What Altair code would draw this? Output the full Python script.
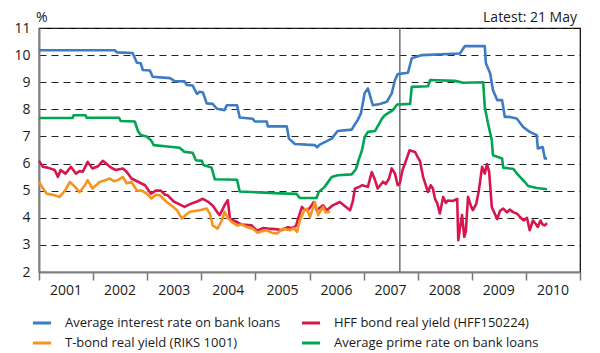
import altair as alt
import pandas as pd

# ---- data (decimal years, percent) ----
blue_x = [2001.00, 2002.40, 2002.44, 2002.73, 2002.81, 2002.88, 2002.92, 2003.05, 2003.10, 2003.42,
          2003.51, 2003.69, 2003.73, 2003.84, 2003.92, 2003.97, 2004.03, 2004.10, 2004.21, 2004.29,
          2004.43, 2004.47, 2004.66, 2004.71, 2004.95, 2004.99, 2005.21, 2005.23, 2005.58, 2005.62,
          2005.73, 2006.10, 2006.14, 2006.19, 2006.41, 2006.52, 2006.78, 2006.84, 2006.89, 2006.95,
          2007.02, 2007.08, 2007.12, 2007.17, 2007.30, 2007.43, 2007.52, 2007.58, 2007.63, 2007.82,
          2007.89, 2008.08, 2008.78, 2008.87, 2009.24, 2009.26, 2009.34, 2009.39, 2009.47, 2009.56,
          2009.61, 2009.70, 2009.83, 2009.95, 2010.07, 2010.20, 2010.22, 2010.31, 2010.35, 2010.39]
blue_y = [10.18, 10.18, 10.10, 10.08, 9.72, 9.70, 9.45, 9.43, 9.20, 9.15,
          9.04, 9.03, 8.90, 8.88, 8.57, 8.65, 8.62, 8.22, 8.20, 8.02,
          7.97, 8.15, 8.15, 7.70, 7.65, 7.55, 7.55, 7.37, 7.37, 6.92,
          6.72, 6.68, 6.60, 6.70, 6.92, 7.20, 7.25, 7.45, 7.60, 7.85,
          8.60, 8.77, 8.50, 8.15, 8.20, 8.28, 8.59, 9.08, 9.30, 9.35,
          9.88, 10.00, 10.06, 10.33, 10.33, 9.70, 9.32, 8.71, 8.34, 8.34,
          7.72, 7.72, 7.66, 7.35, 7.17, 7.05, 6.56, 6.61, 6.19, 6.19]

green_x = [2001.00, 2001.62, 2001.64, 2001.86, 2001.88, 2002.48, 2002.51, 2002.77, 2002.83, 2002.88,
           2002.99, 2003.07, 2003.12, 2003.42, 2003.60, 2003.69, 2003.84, 2003.90, 2004.01, 2004.04,
           2004.19, 2004.25, 2004.66, 2004.71, 2005.45, 2005.76, 2005.82, 2006.13, 2006.17, 2006.28,
           2006.41, 2006.52, 2006.78, 2006.86, 2006.90, 2006.97, 2007.02, 2007.08, 2007.21, 2007.34,
           2007.39, 2007.54, 2007.62, 2007.86, 2007.89, 2008.19, 2008.23, 2008.69, 2008.84, 2009.21,
           2009.24, 2009.30, 2009.37, 2009.39, 2009.56, 2009.58, 2009.77, 2009.86, 2009.98, 2010.04,
           2010.20, 2010.39]
green_y = [7.68, 7.68, 7.78, 7.78, 7.69, 7.69, 7.57, 7.55, 7.20, 7.05,
           7.00, 6.86, 6.68, 6.62, 6.58, 6.43, 6.40, 6.12, 6.10, 5.95,
           5.85, 5.42, 5.40, 4.97, 4.90, 4.88, 4.73, 4.73, 4.95, 5.14,
           5.50, 5.57, 5.60, 5.80, 6.08, 6.49, 6.98, 7.17, 7.20, 7.66,
           7.78, 7.97, 8.18, 8.20, 8.83, 8.85, 9.08, 9.05, 8.98, 9.00,
           8.09, 7.48, 6.86, 6.31, 6.19, 5.85, 5.80, 5.57, 5.32, 5.17,
           5.10, 5.05]

orange_x = [2001.00, 2001.07, 2001.14, 2001.29, 2001.38, 2001.48, 2001.57, 2001.66, 2001.75, 2001.85,
            2001.90, 2001.99, 2002.12, 2002.22, 2002.31, 2002.38, 2002.46, 2002.55, 2002.62, 2002.71,
            2002.81, 2002.90, 2002.99, 2003.08, 2003.16, 2003.23, 2003.36, 2003.45, 2003.55, 2003.64,
            2003.71, 2003.79, 2003.88, 2003.97, 2004.10, 2004.16, 2004.21, 2004.30, 2004.38, 2004.43,
            2004.49, 2004.56, 2004.66, 2004.75, 2004.84, 2004.95, 2005.04, 2005.12, 2005.21, 2005.30,
            2005.40, 2005.51, 2005.64, 2005.71, 2005.77, 2005.82, 2005.91, 2005.95, 2006.01, 2006.10,
            2006.16, 2006.25, 2006.30, 2006.38]
orange_y = [5.32, 5.10, 4.89, 4.83, 4.77, 5.00, 5.32, 5.15, 4.95, 5.20,
            5.39, 5.08, 5.32, 5.38, 5.45, 5.35, 5.39, 5.51, 5.27, 5.32,
            5.00, 5.00, 4.89, 4.71, 4.85, 4.83, 4.58, 4.45, 4.28, 3.97,
            4.10, 4.22, 4.25, 4.28, 4.34, 4.15, 3.72, 3.60, 3.90, 4.22,
            4.00, 3.85, 3.72, 3.75, 3.66, 3.60, 3.45, 3.50, 3.54, 3.45,
            3.42, 3.60, 3.54, 3.62, 3.48, 3.90, 4.30, 4.34, 4.03, 4.58,
            4.10, 4.40, 4.20, 4.22]

red_x = [2001.00, 2001.07, 2001.16, 2001.29, 2001.35, 2001.40, 2001.49, 2001.59, 2001.68, 2001.75,
         2001.81, 2001.90, 2001.99, 2002.09, 2002.18, 2002.31, 2002.42, 2002.55, 2002.62, 2002.71,
         2002.83, 2002.96, 2003.07, 2003.16, 2003.25, 2003.33, 2003.38, 2003.49, 2003.57, 2003.69,
         2003.81, 2003.92, 2004.03, 2004.12, 2004.21, 2004.29, 2004.34, 2004.43, 2004.49, 2004.53,
         2004.62, 2004.75, 2004.93, 2005.03, 2005.14, 2005.23, 2005.36, 2005.49, 2005.60, 2005.67,
         2005.75, 2005.78, 2005.86, 2005.91, 2005.97, 2006.02, 2006.08, 2006.13, 2006.25, 2006.32,
         2006.43, 2006.56, 2006.64, 2006.75, 2006.80, 2006.84, 2006.93, 2006.97, 2007.08, 2007.15,
         2007.21, 2007.26, 2007.36, 2007.41, 2007.47, 2007.52, 2007.58, 2007.63, 2007.67, 2007.72,
         2007.80, 2007.85, 2007.95, 2008.00, 2008.04, 2008.10, 2008.19, 2008.24, 2008.28, 2008.32,
         2008.36, 2008.41, 2008.47, 2008.52, 2008.56, 2008.65, 2008.73, 2008.75, 2008.78, 2008.82,
         2008.86, 2008.89, 2008.93, 2008.99, 2009.02, 2009.08, 2009.13, 2009.19, 2009.24, 2009.28,
         2009.32, 2009.37, 2009.47, 2009.52, 2009.58, 2009.65, 2009.70, 2009.77, 2009.84, 2009.89,
         2009.96, 2010.02, 2010.07, 2010.13, 2010.19, 2010.22, 2010.27, 2010.31, 2010.35, 2010.39]
red_y = [6.10, 5.88, 5.85, 5.76, 5.51, 5.76, 5.63, 5.88, 5.63, 5.72,
         5.70, 6.06, 5.82, 5.90, 6.10, 5.88, 5.76, 5.82, 5.70, 5.45,
         5.33, 5.20, 4.89, 5.00, 5.00, 4.85, 4.83, 4.60, 4.52, 4.40,
         4.52, 4.60, 4.70, 4.60, 4.45, 4.22, 4.10, 4.46, 4.65, 3.95,
         3.88, 3.75, 3.72, 3.52, 3.62, 3.60, 3.58, 3.55, 3.65, 3.62,
         3.70, 3.90, 4.40, 4.30, 4.28, 4.40, 4.58, 4.28, 4.46, 4.28,
         4.46, 4.58, 4.45, 4.28, 4.60, 5.08, 5.15, 5.20, 5.14, 5.69,
         5.40, 5.08, 5.33, 5.25, 5.45, 5.82, 5.63, 5.20, 5.27, 5.76,
         6.20, 6.49, 6.43, 6.24, 6.10, 5.51, 4.95, 5.20, 5.08, 4.70,
         4.54, 4.16, 4.77, 4.55, 4.64, 4.62, 4.70, 3.17, 3.60, 4.10,
         3.30, 3.50, 4.77, 4.40, 4.28, 4.50, 5.00, 5.88, 5.63, 5.98,
         5.70, 4.39, 3.95, 4.25, 4.34, 4.20, 4.30, 4.20, 4.15, 4.03,
         3.90, 4.00, 3.54, 3.90, 3.75, 3.66, 3.90, 3.75, 3.72, 3.80]

series_names = ["Average interest rate on bank loans", "HFF bond real yield (HFF150224)",
                "T-bond real yield (RIKS 1001)", "Average prime rate on bank loans"]
series_colors = ["#3D7BC4", "#D6174E", "#F7941D", "#00A651"]
year_ticks = list(range(2001, 2012))
y_ticks = list(range(2, 12))
break_year = [2007.67]
unit_label = "%"
latest_label = "Latest: 21 May"


def frame(xs, ys, name):
    return pd.DataFrame({"year": xs, "value": ys, "series": name})


color = alt.Color(
    "series:N",
    scale=alt.Scale(domain=series_names, range=series_colors),
    legend=alt.Legend(
        title=None, orient="none", legendX=-8, legendY=284, direction="horizontal",
        columns=2, gridAlign="none", symbolType="stroke", symbolStrokeWidth=3,
        symbolSize=330, labelFont="Open Sans", labelFontSize=13, labelColor="#1a1a1a",
        labelOffset=12, columnPadding=14, rowPadding=2, labelLimit=400, padding=0,
    ),
)

x_enc = alt.X(
    "year:Q",
    scale=alt.Scale(domain=[2001, 2011], nice=False, zero=False),
    axis=alt.Axis(
        title=None, values=year_ticks, format="d",
        labelExpr="datum.value < 2011 ? datum.label : ''",
        labelOffset=26.5, labelOverlap=False, labelFlush=False, labelBound=False,
        tickSize=8, tickColor="#777777", tickWidth=1.5, grid=False,
        domainColor="#808080", domainWidth=2,
        labelFont="Open Sans", labelFontSize=14, labelColor="#1a1a1a", labelPadding=3,
    ),
)
y_enc = alt.Y(
    "value:Q",
    scale=alt.Scale(domain=[2, 11], nice=False, zero=False),
    axis=alt.Axis(
        title=None,
        values=y_ticks, tickSize=0, labelPadding=9,
        grid=True, gridColor="#222222", gridDash=[7, 5], gridWidth=1,
        domainColor="#808080", domainWidth=2,
        labelFont="Open Sans", labelFontSize=14, labelColor="#1a1a1a",
    ),
)


def line(xs, ys, name):
    return alt.Chart(frame(xs, ys, name)).mark_line(strokeWidth=2.6, strokeJoin="round").encode(
        x=x_enc, y=y_enc, color=color
    )


rule = alt.Chart(pd.DataFrame({"year": break_year})).mark_rule(color="#6e6e6e", strokeWidth=1.5).encode(
    x=alt.X("year:Q")
)

unit_text = alt.Chart(pd.DataFrame({"t": [unit_label]})).mark_text(
    align="left", baseline="middle", font="Open Sans", fontSize=14, color="#1a1a1a"
).encode(x=alt.value(-3), y=alt.value(-10), text="t:N")

latest_text = alt.Chart(pd.DataFrame({"t": [latest_label]})).mark_text(
    align="right", baseline="middle", font="Open Sans", fontSize=14, color="#1a1a1a"
).encode(x=alt.value(538), y=alt.value(-10), text="t:N")

chart = alt.layer(
    rule,
    line(blue_x, blue_y, series_names[0]),
    line(green_x, green_y, series_names[3]),
    line(red_x, red_y, series_names[1]),
    line(orange_x, orange_y, series_names[2]),
    unit_text,
    latest_text,
).properties(
    width=541, height=244,
    autosize=alt.AutoSizeParams(type="none"),
    padding={"left": 31, "top": 20, "right": 12, "bottom": 80},
).configure_view(stroke="#000000", strokeWidth=1.2)

chart.save("out.html", embed_options={"renderer": "svg", "actions": False})
